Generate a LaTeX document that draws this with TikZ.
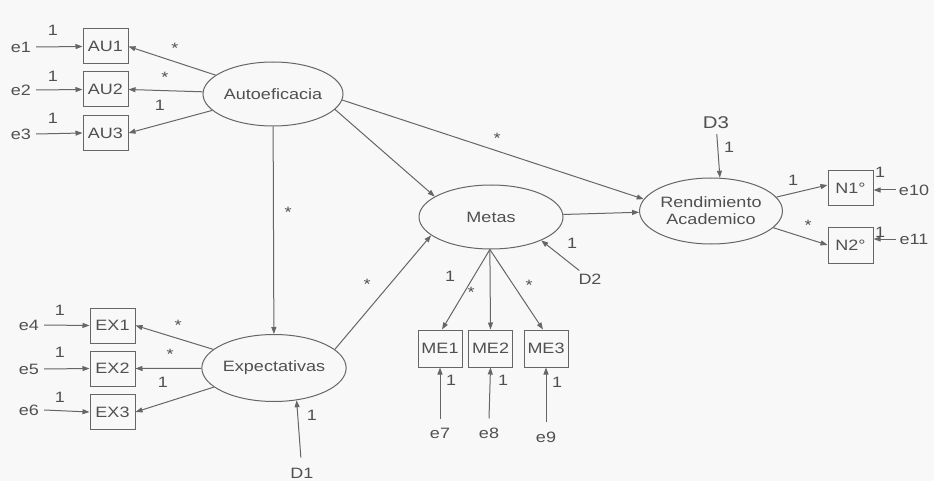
\documentclass[tikz,border=0pt]{standalone}
\usepackage{fontspec}
\setmainfont{Liberation Sans}[FakeStretch=1.2]
\usetikzlibrary{shapes.geometric,arrows.meta}
\definecolor{ink}{HTML}{505050}
\definecolor{edge}{HTML}{666666}
\definecolor{paper}{HTML}{F8F8F8}
\tikzset{
  base/.style={font=\fontsize{15}{17}\selectfont, text=ink},
  latent/.style={base, ellipse, draw=edge, line width=1pt, inner sep=0pt},
  obs/.style={base, rectangle, draw=edge, line width=1pt, minimum width=45pt, minimum height=35pt, inner sep=0pt},
  err/.style={base, inner sep=2pt},
  lbl/.style={base, inner sep=0pt},
  arr/.style={draw=edge, line width=1pt, -{Triangle[length=7pt,width=5pt]}}
}
\begin{document}
\begin{tikzpicture}[x=1pt,y=-1pt]
\fill[paper] (0,0) rectangle (934,481);
\useasboundingbox (0,0) rectangle (934,481);

% latent variables
\node[latent, minimum width=140pt, minimum height=64pt] (auto) at (273,94) {Autoeficacia};
\node[latent, minimum width=142pt, minimum height=67pt] (expe) at (274,368) {Expectativas};
\node[latent, minimum width=144pt, minimum height=64pt] (metas) at (491,217) {Metas};
\node[latent, minimum width=142pt, minimum height=66pt, align=center] (rend) at (711,211) {Rendimiento\\Academico};

% observed
\node[obs] (AU1) at (105.5,46.5) {AU1};
\node[obs] (AU2) at (105.5,89.5) {AU2};
\node[obs] (AU3) at (105.5,133) {AU3};
\node[obs] (EX1) at (112.5,325.5) {EX1};
\node[obs] (EX2) at (112.5,368.5) {EX2};
\node[obs] (EX3) at (112.5,412) {EX3};
\node[obs, minimum width=44pt, minimum height=37pt] (ME1) at (440,348.5) {ME1};
\node[obs, minimum width=44pt, minimum height=37pt] (ME2) at (490.5,348.5) {ME2};
\node[obs, minimum width=44pt, minimum height=37pt] (ME3) at (546,348.5) {ME3};
\node[obs] (N1) at (850.5,188) {N1°};
\node[obs, minimum height=36pt] (N2) at (850.5,245) {N2°};

% errors and disturbances
\node[err, inner sep=5pt] (e1) at (21,47) {e1};
\node[err, inner sep=5pt] (e2) at (21,90) {e2};
\node[err, inner sep=5pt] (e3) at (21,134) {e3};
\node[err, inner sep=5pt] (e4) at (29,325) {e4};
\node[err, inner sep=5pt] (e5) at (29,369) {e5};
\node[err, inner sep=5pt] (e6) at (29,410) {e6};
\node[err, inner sep=9pt] (e7) at (440,433) {e7};
\node[err, inner sep=9pt] (e8) at (489,433) {e8};
\node[err, inner sep=9pt] (e9) at (546,437) {e9};
\node[err, inner sep=3pt] (e10) at (914,190) {e10};
\node[err, inner sep=3pt] (e11) at (914,239) {e11};
\node[err, inner sep=10pt] (D1) at (302,473) {D1};
\node[err, inner sep=3pt] (D2) at (590,279) {D2};
\node[err, inner sep=5pt, font=\fontsize{17}{19}\selectfont] (D3) at (716,123) {D3};

% error arrows
\draw[arr] (e1.east) -- (AU1.west);
\draw[arr] (e2.east) -- (AU2.west);
\draw[arr] (e3.east) -- (AU3.west);
\draw[arr] (e4.east) -- (EX1.west);
\draw[arr] (e5.east) -- (EX2.west);
\draw[arr] (e6.east) -- (EX3.west);
\draw[arr] (e7.north) -- (ME1.south);
\draw[arr] (e8.north) -- (ME2.south);
\draw[arr] (e9.north) -- (ME3.south);
\draw[arr] (e10.west) -- (N1.east |- e10.west);
\draw[arr] (e11.west) -- (N2.east |- e11.west);
\draw[arr] (D1) -- (expe.-55);
\draw[arr] (D2) -- (metas.-25);
\draw[arr] (D3) -- (rend.75);

% loadings
\draw[arr] (auto) -- (AU1.east);
\draw[arr] (auto) -- (AU2.east);
\draw[arr] (auto) -- (AU3.east);
\draw[arr] (expe) -- (EX1.east);
\draw[arr] (expe) -- (EX2.east);
\draw[arr] (expe) -- (EX3.east);
\coordinate (mb) at (metas.-92);
\draw[arr] (mb) -- ([xshift=2pt]ME1.north);
\draw[arr] (mb) -- (ME2.north);
\draw[arr] (mb) -- ([xshift=-3pt]ME3.north);
\draw[arr] (rend.12) -- ([yshift=3pt]N1.west);
\draw[arr] (rend.-15) -- (N2.west);

% structural paths
\draw[arr] (auto) -- (expe);
\draw[arr] (auto.-14) -- (metas.160);
\draw[arr] (auto.-5) -- (rend.170);
\draw[arr] (expe.17) -- (metas.197);
\draw[arr] (metas.2) -- (rend.181);

% labels
\node[lbl] (l1) at (53,30) {1};
\node[lbl] (l2) at (53,76) {1};
\node[lbl] (l3) at (53,118) {1};
\node[lbl] (s1) at (175,48) {*};
\node[lbl] (s2) at (165,77) {*};
\node[lbl] (l4) at (160,105) {1};
\node[lbl] (l5) at (60,310) {1};
\node[lbl] (l6) at (60,352) {1};
\node[lbl] (l7) at (60,397) {1};
\node[lbl] (s3) at (178,325) {*};
\node[lbl] (s4) at (170,354) {*};
\node[lbl] (l8) at (163,382) {1};
\node[lbl] (l9) at (312,415) {1};
\node[lbl] (s5) at (288,212) {*};
\node[lbl] (s6) at (497,138) {*};
\node[lbl] (s7) at (367,284) {*};
\node[lbl] (l10) at (450,276) {1};
\node[lbl] (s8) at (471,292) {*};
\node[lbl] (s9) at (529,285) {*};
\node[lbl] (l11) at (572,243) {1};
\node[lbl] (l12) at (451,380) {1};
\node[lbl] (l13) at (503,380) {1};
\node[lbl] (l14) at (557,382) {1};
\node[lbl] (l15) at (729,147) {1};
\node[lbl] (l16) at (793,180) {1};
\node[lbl] (s10) at (808,225) {*};
\node[lbl] (l17) at (880,172) {1};
\node[lbl] (l18) at (880,232) {1};
\end{tikzpicture}
\end{document}
